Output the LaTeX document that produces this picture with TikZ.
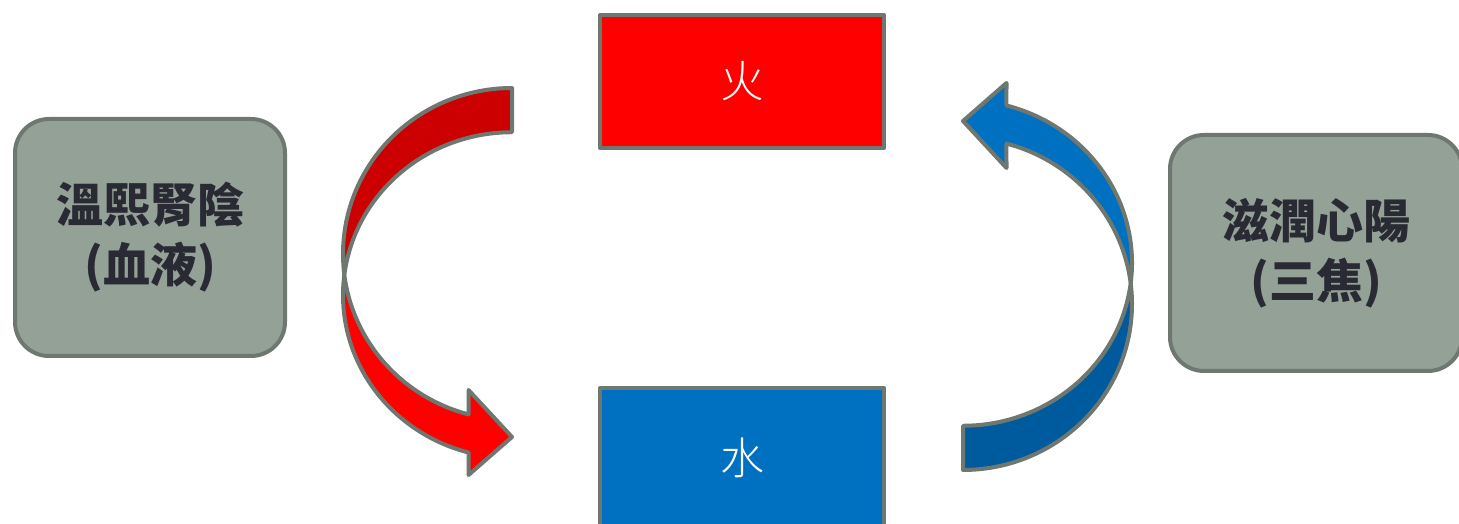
\documentclass[tikz,border=0pt]{standalone}
\usepackage{fontspec}
\newfontfamily\cjk{Noto Sans CJK TC}
\newfontfamily\cjklight{Noto Sans CJK TC Light}
\usepackage{tikz}
\usepackage{xcolor}
\definecolor{edgegray}{RGB}{110,120,112}
\definecolor{sagebox}{RGB}{148,161,151}
\definecolor{inkdark}{RGB}{42,42,52}
\definecolor{firered}{RGB}{255,0,0}
\definecolor{firedark}{RGB}{204,0,0}
\definecolor{waterblue}{RGB}{0,112,192}
\definecolor{waterdark}{RGB}{0,90,158}

\begin{document}
\begin{tikzpicture}[x=1pt,y=1pt,line join=round,
  element/.style={draw=edgegray,line width=4pt,minimum width=284pt,minimum height=133pt,text=white,font=\cjklight\fontsize{44}{44}\selectfont},
  organ/.style={draw=edgegray,fill=sagebox,line width=4pt,rounded corners=34pt,align=center,text=inkdark,font=\cjk\bfseries\fontsize{47}{60}\selectfont},
  band/.style={draw=edgegray,line width=4pt}]
\useasboundingbox (0,0) rectangle (1459,524);
\clip (0,0) rectangle (1459,524);
\node[element,fill=firered] (fire) at (742,442.5) {火};
\node[element,fill=waterblue,minimum height=140pt] (water) at (742,66) {水};
\node[organ,minimum width=270pt,minimum height=237pt] (yin) at (150,286.5) {溫熙腎陰\\(血液)};
\node[organ,minimum width=292pt,minimum height=236pt] (yang) at (1316,271) {滋潤心陽\\(三焦)};
\coordinate (ra) at (512,270);
\coordinate (rb) at (512,229);
\path[band,fill=firedark] ([shift={(ra)}]90:169pt and 166pt) arc[start angle=90,end angle=187.2,x radius=169pt,y radius=166pt] arc[start angle=172.8,end angle=90,x radius=169pt,y radius=163pt] -- cycle;
\path[band,fill=firered] ([shift={(rb)}]172.8:169pt and 163pt) arc[start angle=172.8,end angle=255.1,x radius=169pt,y radius=163pt] -- (468.5,49) -- (512,87) -- (468.5,134) -- ([shift={(ra)}]255.1:169pt and 166pt) arc[start angle=255.1,end angle=187.2,x radius=169pt,y radius=166pt] -- cycle;
\begin{scope}[rotate around={180:(737.5,245)}]
\path[band,fill=waterdark] ([shift={(ra)}]90:169pt and 166pt) arc[start angle=90,end angle=187.2,x radius=169pt,y radius=166pt] arc[start angle=172.8,end angle=90,x radius=169pt,y radius=163pt] -- cycle;
\path[band,fill=waterblue] ([shift={(rb)}]172.8:169pt and 163pt) arc[start angle=172.8,end angle=255.1,x radius=169pt,y radius=163pt] -- (468.5,49) -- (512,87) -- (468.5,134) -- ([shift={(ra)}]255.1:169pt and 166pt) arc[start angle=255.1,end angle=187.2,x radius=169pt,y radius=166pt] -- cycle;
\end{scope}
\end{tikzpicture}
\end{document}
